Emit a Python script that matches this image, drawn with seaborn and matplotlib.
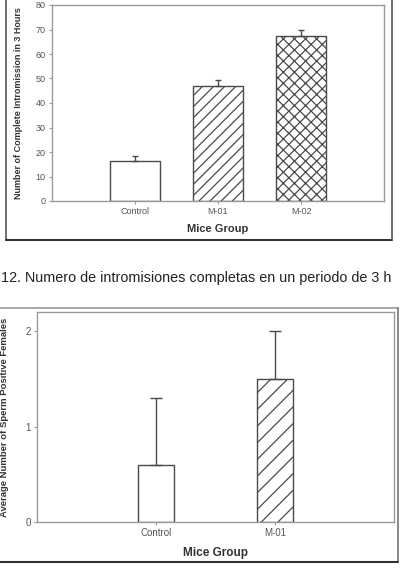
"""Two bar charts of mice group results with a caption line in between."""
import matplotlib.pyplot as plt
import numpy as np
import pandas as pd
import seaborn as sns
from matplotlib.lines import Line2D

# top chart: complete intromissions in 3 hours
groups_top = ["Control", "M-01", "M-02"]
means_top = [16.5, 46.8, 67.3]
errs_top = [1.8, 2.4, 2.5]
hatch_top = ["", "///", "xxx"]

# bottom chart: sperm positive females
groups_bot = ["Control", "M-01"]
means_bot = [0.6, 1.5]
errs_bot = [0.7, 0.5]
hatch_bot = ["", "//"]

caption = "12. Numero de intromisiones completas en un periodo de 3 h"

W, H = 400, 578
EDGE = "#4a4a4a"
SPINE = "#9a9a9a"
TICK = "#555555"

sns.set_style("white")
plt.rcParams["font.family"] = ["Liberation Sans", "DejaVu Sans"]
plt.rcParams["hatch.linewidth"] = 0.9
plt.rcParams["hatch.color"] = EDGE


def px_axes(fig, left, top, right, bottom):
    return fig.add_axes([left / W, 1 - bottom / H, (right - left) / W, (bottom - top) / H])


def bar_panel(ax, groups, means, errs, hatches, width, capsize, tick_fs, label_fs):
    df = pd.DataFrame({"group": groups, "value": means})
    sns.barplot(data=df, x="group", y="value", color="white", edgecolor=EDGE,
                linewidth=1.0, width=width, errorbar=None, ax=ax)
    for patch, h in zip(ax.patches, hatches):
        patch.set_facecolor("white")
        patch.set_hatch(h)
    n = len(groups)
    ax.errorbar(np.arange(n), means, yerr=[np.zeros(n), errs], fmt="none",
                ecolor=EDGE, elinewidth=1.0, capsize=capsize, capthick=1.0)
    ax.set_xlim(-1, n)
    for s in ax.spines.values():
        s.set_color(SPINE)
        s.set_linewidth(1.0)
    ax.tick_params(axis="both", direction="out", length=2.5, width=0.8,
                   color=SPINE, labelcolor=TICK, labelsize=tick_fs, pad=2,
                   left=True, bottom=True)
    ax.set_xlabel("Mice Group", fontsize=label_fs, fontweight="bold", color="#333333")


fig = plt.figure(figsize=(W / 100, H / 100), dpi=100)

ax1 = px_axes(fig, 52, 5, 384, 201)
bar_panel(ax1, groups_top, means_top, errs_top, hatch_top, 0.6, 2.5, 6.5, 8)
ax1.set_ylim(0, 80)
ax1.set_yticks(np.arange(0, 81, 10))
ax1.set_ylabel("Number of Complete Intromission in 3 Hours", fontsize=6.5,
               fontweight="bold", color="#333333")
ax1.yaxis.set_label_coords(-0.087, 0.5)
ax1.xaxis.set_label_coords(0.5, -0.115)

ax2 = px_axes(fig, 37, 312, 394, 522)
bar_panel(ax2, groups_bot, means_bot, errs_bot, hatch_bot, 0.3, 4, 7, 8.5)
ax2.set_ylim(0, 2.2)
ax2.set_yticks([0, 1, 2])
ax2.set_ylabel("Average Number of Sperm Positive Females", fontsize=6.8,
               fontweight="bold", color="#333333")
ax2.yaxis.set_label_coords(-0.078, 0.5)
ax2.xaxis.set_label_coords(0.5, -0.12)

# outer picture frames
def frame_line(x0, y0, x1, y1, color, lw):
    fig.add_artist(Line2D([x0 / W, x1 / W], [1 - y0 / H, 1 - y1 / H],
                          color=color, lw=lw, transform=fig.transFigure))

frame_line(6, 0, 6, 240, "#555555", 1.2)
frame_line(6, 240, 392, 240, "#333333", 1.5)
frame_line(392, 0, 392, 240, "#555555", 1.2)
frame_line(0, 308, 398, 308, "#999999", 1.2)
frame_line(398, 308, 398, 562, "#777777", 1.2)
frame_line(0, 562, 398, 562, "#333333", 1.5)

fig.text(0.002, 1 - 278 / H, caption, fontsize=10.4, color="#222222",
         ha="left", va="center")

fig.savefig("out.png", dpi=100)
